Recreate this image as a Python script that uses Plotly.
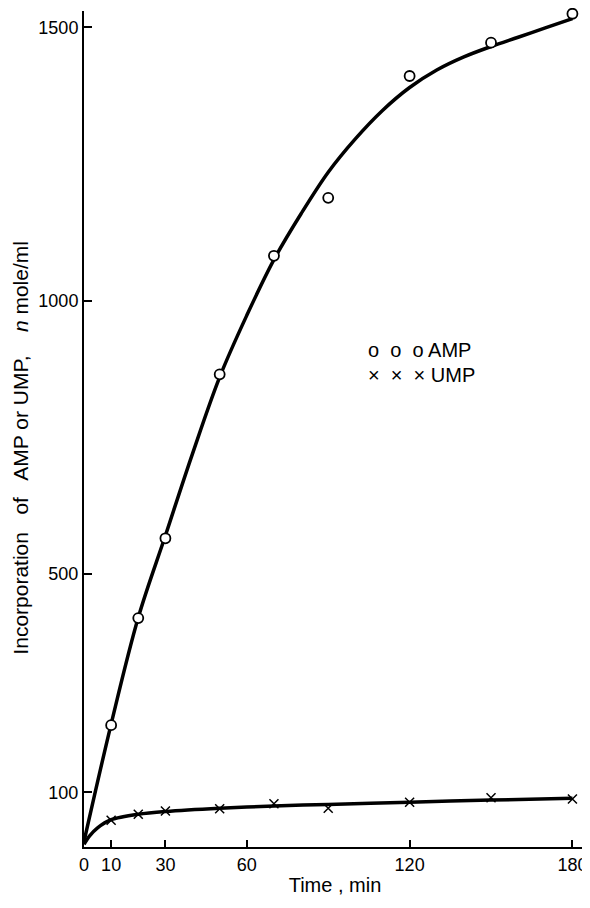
import plotly.graph_objects as go

# Measured data points
amp_t = [10, 20, 30, 50, 70, 90, 120, 150, 180]
amp_v = [223, 419, 565, 865, 1082, 1188, 1411, 1472, 1525]
ump_t = [10, 20, 30, 50, 70, 90, 120, 150, 180]
ump_v = [49, 60, 66, 70, 79, 71, 82, 90, 88]

# Hand-drawn fitted curves
amp_curve_t = [0, 10, 20, 30, 40, 50, 60, 70, 80, 90, 100, 110, 120, 130, 140, 150, 160, 170, 180]
amp_curve_v = [10, 225, 420, 570, 720, 860, 973, 1075, 1159, 1235, 1296, 1348, 1390, 1422, 1446, 1465, 1482, 1499, 1516]
ump_curve_t = [0, 2, 5, 10, 20, 30, 50, 70, 90, 120, 150, 180]
ump_curve_v = [5, 20, 35, 50, 60, 65, 71, 75, 78, 82, 86, 89]

x_ticks = [0, 10, 30, 60, 120, 180]
y_ticks = [100, 500, 1000, 1500]

FONT = "Liberation Sans"

fig = go.Figure()
fig.add_trace(go.Scatter(x=amp_curve_t, y=amp_curve_v, mode="lines",
                         line=dict(color="black", width=3.5, shape="spline", smoothing=1),
                         hoverinfo="skip", showlegend=False))
fig.add_trace(go.Scatter(x=ump_curve_t, y=ump_curve_v, mode="lines",
                         line=dict(color="black", width=3.5, shape="spline", smoothing=0.8),
                         hoverinfo="skip", showlegend=False))
fig.add_trace(go.Scatter(x=amp_t, y=amp_v, mode="markers", name="AMP",
                         marker=dict(symbol="circle", size=10, color="white",
                                     line=dict(color="black", width=1.8)),
                         cliponaxis=False, showlegend=False))
fig.add_trace(go.Scatter(x=ump_t, y=ump_v, mode="markers", name="UMP",
                         marker=dict(symbol="x-thin", size=9,
                                     line=dict(color="black", width=1.5)),
                         cliponaxis=False, showlegend=False))

fig.add_annotation(x=0.562, y=0.594, xref="paper", yref="paper",
                   text="o  o  o AMP", showarrow=False, xanchor="left", yanchor="middle",
                   font=dict(family=FONT, size=20, color="black"))
fig.add_annotation(x=0.562, y=0.564, xref="paper", yref="paper",
                   text="×  ×  × UMP", showarrow=False, xanchor="left", yanchor="middle",
                   font=dict(family=FONT, size=20, color="black"))

# y-axis title placed as rotated annotation
fig.add_annotation(x=-0.127, y=0.478, xref="paper", yref="paper",
                   text="Incorporation   of   AMP or UMP,    <i>n</i> mole/ml",
                   textangle=-90, showarrow=False, xanchor="center", yanchor="middle",
                   font=dict(family=FONT, size=21, color="black"))

# page body has an 8px default margin, so the figure is 8px smaller than the window
fig.update_layout(
    width=582, height=900,
    margin=dict(l=76, r=4, t=3, b=61, autoexpand=False),
    paper_bgcolor="white", plot_bgcolor="white",
    font=dict(family=FONT, size=18, color="black"),
)
fig.update_xaxes(range=[0, 185], tickvals=x_ticks, ticktext=[str(v) for v in x_ticks],
                 showgrid=False, zeroline=False, showline=True, linecolor="black",
                 linewidth=2, ticks="inside", ticklen=7, tickwidth=1.5, tickcolor="black",
                 tickfont=dict(size=18), automargin=False,
                 title=dict(text="Time , min", font=dict(size=20), standoff=4))
fig.update_yaxes(range=[0, 1530], tickvals=y_ticks, ticktext=[str(v) for v in y_ticks],
                 showgrid=False, zeroline=False, showline=True, linecolor="black",
                 linewidth=2, ticks="inside", ticklen=8, tickwidth=1.5, tickcolor="black",
                 tickfont=dict(size=18), automargin=False)

fig.write_html("out.html")
